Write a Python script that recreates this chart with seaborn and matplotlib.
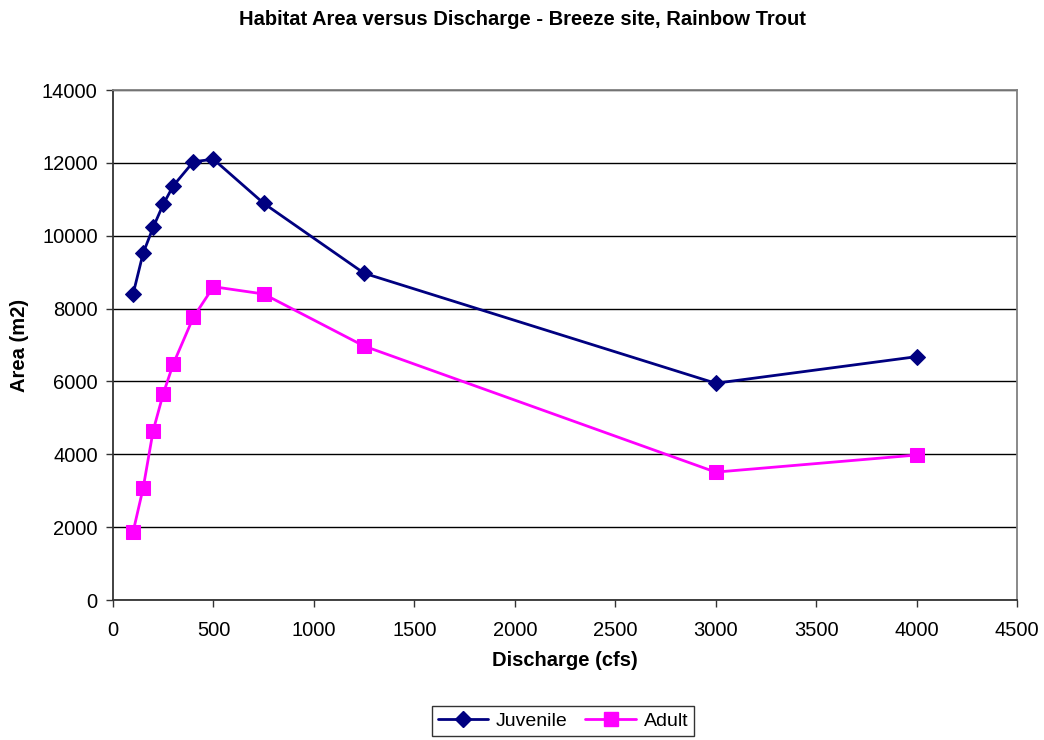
import matplotlib
matplotlib.use('Agg')
import matplotlib.pyplot as plt
import seaborn as sns
import pandas as pd

# data
discharge = [100, 150, 200, 250, 300, 400, 500, 750, 1250, 3000, 4000]
juvenile = [8400, 9520, 10230, 10860, 11370, 12030, 12100, 10890, 8970, 5950, 6680]
adult = [1870, 3070, 4650, 5660, 6480, 7760, 8600, 8400, 6970, 3510, 3980]
series_names = ['Juvenile', 'Adult']

df = pd.DataFrame({
    'Discharge': discharge * 2,
    'Area': juvenile + adult,
    'Stage': [series_names[0]] * len(discharge) + [series_names[1]] * len(discharge),
})

sns.set_theme(style='white')
plt.rcParams['font.family'] = ['Liberation Sans', 'DejaVu Sans']
plt.rcParams['text.color'] = 'black'
plt.rcParams['axes.labelcolor'] = 'black'
plt.rcParams['xtick.color'] = 'black'
plt.rcParams['ytick.color'] = 'black'

fig = plt.figure(figsize=(10.44, 7.40), dpi=100)
ax = fig.add_axes([113 / 1044, 1 - 600 / 740, (1017 - 113) / 1044, (600 - 90) / 740])

sns.lineplot(
    data=df, x='Discharge', y='Area', hue='Stage', style='Stage',
    palette={'Juvenile': '#000080', 'Adult': '#FF00FF'},
    markers={'Juvenile': 'D', 'Adult': 's'},
    dashes=False, linewidth=2, ax=ax, legend=False,
)
for line, ms in zip(ax.lines, [8.5, 10]):
    line.set_markersize(ms)
    line.set_markeredgecolor(line.get_color())

ax.set_xlim(0, 4500)
ax.set_ylim(0, 14000)
ax.set_xticks(range(0, 4501, 500))
ax.set_yticks(range(0, 14001, 2000))
ax.yaxis.grid(True, color='black', linewidth=1)
ax.set_axisbelow(True)
for name, s in ax.spines.items():
    s.set_color('#808080' if name in ('top', 'right') else '#333333')
    s.set_linewidth(1.3)
ax.tick_params(axis='both', which='major', labelsize=14.5, direction='out',
               length=5, width=1, color='#333333', bottom=True, left=True)
ax.tick_params(axis='y', pad=6)
ax.tick_params(axis='x', pad=10)

ax.set_xlabel('Discharge (cfs)', fontsize=14.5, fontweight='bold', labelpad=8)
ax.set_ylabel('Area (m2)', fontsize=14.5, fontweight='bold', labelpad=9)
fig.suptitle('Habitat Area versus Discharge - Breeze site, Rainbow Trout',
             fontsize=14.5, fontweight='bold', y=0.987)

handles = [
    plt.Line2D([], [], color='#000080', marker='D', markersize=8.5, linewidth=2),
    plt.Line2D([], [], color='#FF00FF', marker='s', markersize=10, linewidth=2),
]
leg = fig.legend(handles, series_names, loc='center', bbox_to_anchor=(563 / 1044, 1 - 721 / 740),
                 ncol=2, fontsize=14, frameon=True, fancybox=False, edgecolor='black',
                 handlelength=2.6, columnspacing=0.9, handletextpad=0.4, borderpad=0.3)
leg.get_frame().set_linewidth(1)

fig.savefig('out.png', dpi=100)
